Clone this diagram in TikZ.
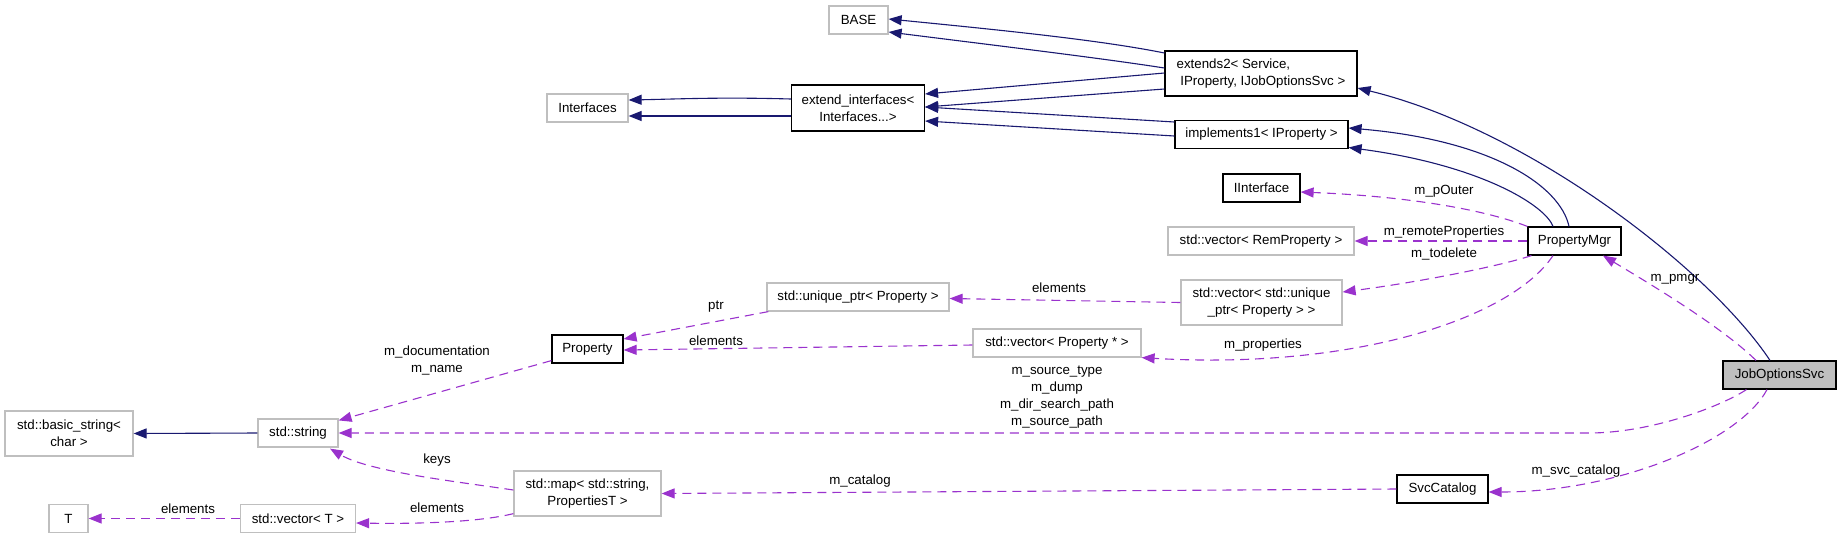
\documentclass[tikz,border=0pt]{standalone}
\usepackage{fontspec}
\setmainfont{Liberation Sans}
\usetikzlibrary{arrows.meta,calc}
\definecolor{navyc}{HTML}{191970}
\definecolor{orchidc}{HTML}{9A32CD}
\definecolor{greyc}{HTML}{BFBFBF}
\begin{document}
\begin{tikzpicture}[x=1pt,y=-1pt,
  dbox/.style={rectangle,inner sep=0pt,line width=1.2pt,font=\fontsize{13.3}{17}\selectfont,align=center},
  gbox/.style={dbox,draw=greyc},
  bbox/.style={dbox,draw=black},
  inh/.style={draw=navyc,line width=1.1pt,-{Triangle[length=13pt,width=10pt]}},
  uses/.style={draw=orchidc,line width=1.1pt,dash pattern=on 9pt off 6pt,-{Triangle[length=13pt,width=10pt]}},
  lbl/.style={font=\fontsize{13.3}{17}\selectfont,inner sep=0pt,align=center,text=black}]
\useasboundingbox (0,0) rectangle (1840,539);

% nodes
\node[gbox,minimum width=59pt,minimum height=28pt] (base) at (858.5,20) {BASE};
\node[gbox,minimum width=81pt,minimum height=28pt] (interf) at (587.5,108) {Interfaces};
\node[bbox,minimum width=133pt,minimum height=46pt] (extif) at (858,108) {extend\_interfaces<\\Interfaces...>};
\node[bbox,align=left,minimum width=192pt,minimum height=45pt] (ext2) at (1261,73.5) {extends2< Service,\\\mbox{}\ IProperty, IJobOptionsSvc >};
\node[bbox,minimum width=173pt,minimum height=28pt] (impl) at (1261.5,134.5) {implements1< IProperty >};
\node[bbox,minimum width=77pt,minimum height=28pt] (iint) at (1261.5,188) {IInterface};
\node[gbox,minimum width=186pt,minimum height=28pt] (remp) at (1261,241) {std::vector< RemProperty >};
\node[bbox,minimum width=93pt,minimum height=28pt] (pmgr) at (1574.5,241) {PropertyMgr};
\node[gbox,minimum width=161pt,minimum height=45pt] (vecu) at (1261.5,302.5) {std::vector< std::unique\\\_ptr< Property > >};
\node[bbox,fill=greyc,minimum width=113pt,minimum height=28pt] (jos) at (1779.5,375) {JobOptionsSvc};
\node[gbox,minimum width=168pt,minimum height=28pt] (vecp) at (1057,343) {std::vector< Property * >};
\node[gbox,minimum width=182pt,minimum height=28pt] (uptr) at (858,297) {std::unique\_ptr< Property >};
\node[bbox,minimum width=71pt,minimum height=28pt] (prop) at (587.5,349) {Property};
\node[gbox,minimum width=128pt,minimum height=45pt] (bstr) at (69,433.5) {std::basic\_string<\\char >};
\node[gbox,minimum width=80pt,minimum height=28pt] (str) at (298,433) {std::string};
\node[gbox,minimum width=39pt,minimum height=28pt] (T) at (68.5,518.5) {T};
\node[gbox,minimum width=115pt,minimum height=28pt] (vecT) at (298,518.5) {std::vector< T >};
\node[gbox,minimum width=147pt,minimum height=45pt] (map) at (587.5,493.5) {std::map< std::string,\\PropertiesT >};
\node[bbox,minimum width=91pt,minimum height=28pt] (svc) at (1442.5,489) {SvcCatalog};

% inheritance
\draw[inh] ($(ext2.west)+(0,-20.5)$) .. controls (1100,40) and (1000,30) .. ($(base.east)+(0,-1)$);
\draw[inh] ($(ext2.west)+(0,-5.5)$) .. controls (1100,58) and (1000,46) .. ($(base.east)+(0,12)$);
\draw[inh] ($(ext2.west)+(0,-0.5)$) -- ($(extif.east)+(0,-14)$);
\draw[inh] ($(ext2.west)+(0,15.5)$) -- ($(extif.east)+(0,-1)$);
\draw[inh] ($(impl.west)+(0,-12.5)$) -- ($(extif.east)+(0,-1)$);
\draw[inh] ($(impl.west)+(0,1.5)$) -- ($(extif.east)+(0,13)$);
\draw[inh] ($(extif.west)+(0,-9)$) .. controls (720,97) and (680,99) .. ($(interf.east)+(0,-8)$);
\draw[inh] ($(extif.west)+(0,8)$) -- ($(interf.east)+(0,8)$);
\draw[inh] ($(pmgr.north)+(-5.5,0)$) .. controls (1560,185) and (1490,140) .. ($(impl.east)+(0,-6.5)$);
\draw[inh] ($(pmgr.north)+(-21.5,0)$) .. controls (1545,205) and (1480,165) .. ($(impl.east)+(0,13)$);
\draw[inh] ($(jos.north)+(-9.5,0)$) .. controls (1710,270) and (1530,130) .. ($(ext2.east)+(0,14.5)$);
\draw[inh] (str.west) -- (bstr.east);

% usage
\draw[uses] (pmgr.north west) .. controls (1480,208) and (1400,196) .. ($(iint.east)+(0,4)$);
\node[lbl] (l1) at (1444,191) {m\_pOuter};
\draw[uses] (pmgr.west) -- (remp.east);
\node[lbl] (l2) at (1444,232) {m\_remoteProperties};
\draw[uses] ($(pmgr.south west)+(4,0)$) .. controls (1500,266) and (1420,282) .. ($(vecu.east)+(0,-10.5)$);
\node[lbl] (l3) at (1444,254) {m\_todelete};
\draw[uses] ($(pmgr.south)+(-21.5,0)$) .. controls (1510,320) and (1350,370) .. (vecp.south east);
\node[lbl] (l4) at (1263,345) {m\_properties};
\draw[uses] ($(jos.north)+(-23.5,0)$) .. controls (1720,325) and (1640,278) .. ($(pmgr.south)+(28.5,0)$);
\node[lbl] (l5) at (1675,279) {m\_pmgr};
\draw[uses] (vecu.west) -- ($(uptr.east)+(0,1.5)$);
\node[lbl] (l6) at (1059,288) {elements};
\draw[uses] ($(uptr.south west)+(2,0)$) -- ($(prop.east)+(0,-10)$);
\node[lbl] (l7) at (716,307) {ptr};
\draw[uses] ($(vecp.west)+(0,2)$) -- ($(prop.east)+(0,1)$);
\node[lbl] (l8) at (716,341) {elements};
\draw[uses] ($(prop.south west)+(0,-3)$) -- ($(str.north east)+(0,2)$);
\node[lbl] (l9) at (437,360.5) {m\_documentation\\m\_name};
\draw[uses] ($(jos.south west)+(24,0)$) .. controls (1720,407) and (1650,433) .. (1589,433) -- (str.east);
\node[lbl] (l10) at (1057,397.5) {m\_source\_type\\m\_dump\\m\_dir\_search\_path\\m\_source\_path};
\draw[uses] ($(map.west)+(0,-3.5)$) .. controls (460,482) and (370,472) .. ($(str.south)+(32,1)$);
\node[lbl] (l11) at (437,460) {keys};
\draw[uses] ($(map.south west)+(0,-3)$) .. controls (480,522) and (420,524) .. ($(vecT.east)+(0,4.5)$);
\node[lbl] (l12) at (437,508) {elements};
\draw[uses] (vecT.west) -- (T.east);
\node[lbl] (l13) at (188,509) {elements};
\draw[uses] (svc.west) -- (map.east);
\node[lbl] (l14) at (860,481) {m\_catalog};
\draw[uses] ($(jos.south)+(-12.5,0)$) .. controls (1740,440) and (1620,492) .. ($(svc.east)+(0,3)$);
\node[lbl] (l15) at (1576,471) {m\_svc\_catalog};
\end{tikzpicture}
\end{document}
